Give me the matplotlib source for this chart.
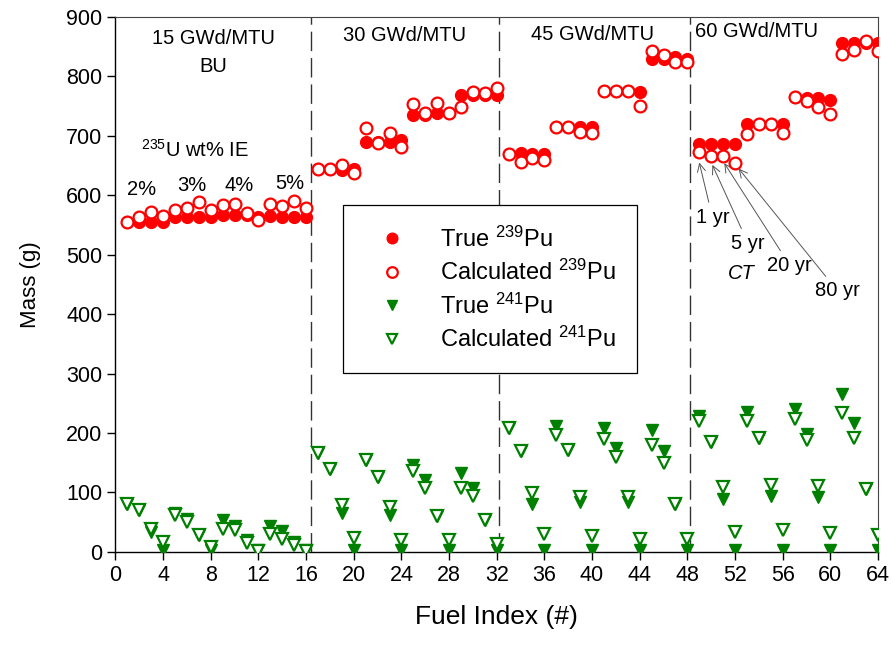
import numpy as np
import matplotlib
matplotlib.use('Agg')
import matplotlib.pyplot as plt

plt.rcParams['font.family'] = ['Liberation Sans', 'DejaVu Sans']
plt.rcParams['mathtext.fontset'] = 'custom'
plt.rcParams['mathtext.rm'] = 'Liberation Sans'
plt.rcParams['mathtext.it'] = 'Liberation Sans:italic'

# 4 burnups x 4 enrichments x 4 cooling times (1, 5, 20, 80 yr)
fuel_index = np.arange(1, 65)

true_pu239 = [555, 555, 555, 555, 564, 564, 564, 564, 567, 567, 567, 564, 565, 564, 564, 564,
              645, 645, 642, 645, 690, 690, 690, 693, 735, 735, 738, 738, 769, 769, 769, 769,
              669, 671, 669, 669, 715, 715, 715, 715, 776, 776, 775, 773, 829, 829, 833, 829,
              686, 686, 686, 686, 720, 720, 720, 720, 765, 763, 763, 761, 857, 857, 857, 856]
calc_pu239 = [555, 564, 572, 565, 576, 578, 589, 576, 583, 585, 570, 558, 586, 582, 591, 578,
              645, 645, 651, 637, 713, 688, 705, 682, 754, 739, 755, 739, 749, 774, 772, 780,
              669, 656, 662, 659, 715, 715, 706, 704, 776, 776, 776, 750, 843, 836, 825, 825,
              673, 666, 666, 655, 703, 720, 720, 705, 765, 759, 748, 737, 838, 845, 860, 843]
true_pu241 = [80, 70, 34, 3, 66, 55, 28, 3, 53, 43, 20, 3, 43, 35, 17, 3,
              167, 140, 65, 3, 154, 126, 62, 3, 146, 121, 60, 3, 132, 108, 53, 3,
              208, 169, 81, 3, 212, 171, 84, 3, 209, 174, 84, 3, 205, 170, 80, 3,
              228, 185, 88, 3, 236, 191, 94, 3, 240, 198, 93, 3, 265, 217, 105, 3]
calc_pu241 = [80, 70, 39, 17, 62, 50, 28, 8, 39, 37, 15, 1, 30, 22, 11, 1,
              167, 140, 79, 24, 154, 126, 75, 20, 136, 108, 60, 19, 108, 94, 53, 13,
              208, 169, 99, 30, 196, 171, 93, 26, 189, 160, 92, 22, 180, 149, 80, 21,
              220, 185, 109, 34, 220, 191, 112, 36, 223, 188, 111, 31, 233, 191, 105, 28]

burnup_labels = ['15 GWd/MTU', '30 GWd/MTU', '45 GWd/MTU', '60 GWd/MTU']
burnup_label_x = [8.2, 24.3, 40.0, 53.8]
burnup_label_y = [864, 868, 871, 875]
group_edges = [16.4, 32.2, 48.25]
enrich_labels = ['2%', '3%', '4%', '5%']
enrich_x = [2.2, 6.4, 10.4, 14.6]
enrich_y = [609, 617, 617, 620]
red = '#ff0000'
green = '#008000'

fig = plt.figure(figsize=(8.93, 6.53), dpi=100)
ax = fig.add_axes([0.1293, 0.155, 0.8539, 0.819])

ms = 8.5
ax.plot(fuel_index, true_pu239, 'o', color=red, ms=ms, mec=red, label='True $^{239}$Pu', zorder=3)
ax.plot(fuel_index, calc_pu239, 'o', color=red, ms=ms, mfc='white', mec=red, mew=1.6,
        label='Calculated $^{239}$Pu', zorder=4)
ax.plot(fuel_index, true_pu241, 'v', color=green, ms=ms, mec=green, label='True $^{241}$Pu', zorder=3)
ax.plot(fuel_index, calc_pu241, 'v', color=green, ms=ms, mfc='white', mec=green, mew=1.6,
        label='Calculated $^{241}$Pu', zorder=4)

for xe in group_edges:
    ax.axvline(xe, color='#333333', lw=1.0, ls=(0, (14, 5)), zorder=1)

ax.set_xlim(0, 64)
ax.set_ylim(0, 900)
ax.set_xticks(np.arange(0, 65, 4))
ax.set_yticks(np.arange(0, 901, 100))
ax.tick_params(direction='out', length=6, width=1, labelsize=15.5)
for side in ['left', 'bottom']:
    ax.spines[side].set_linewidth(1.0)
for side in ['top', 'right']:
    ax.spines[side].set_linewidth(0.8)
    ax.spines[side].set_color('#444444')

ax.set_xlabel('Fuel Index (#)', fontsize=19, labelpad=14)
ax.set_ylabel('Mass (g)', fontsize=16, labelpad=18)

for lab, x, y in zip(burnup_labels, burnup_label_x, burnup_label_y):
    ax.text(x, y, lab, fontsize=14.5, ha='center', va='center')
ax.text(8.2, 817, 'BU', fontsize=14.5, ha='center', va='center')

ax.text(6.7, 676, '$^{235}$U wt% IE', fontsize=14.5, ha='center', va='center')
for lab, x, y in zip(enrich_labels, enrich_x, enrich_y):
    ax.text(x, y, lab, fontsize=14.5, ha='center', va='center')

# cooling time callouts on the first 60 GWd/MTU block
arrow = dict(arrowstyle='->', color='#555555', lw=0.7, shrinkA=2, shrinkB=0)
ct_text = ['1 yr', '5 yr', '20 yr', '80 yr']
ct_text_xy = [(50.1, 563), (53.1, 519), (56.6, 482), (60.6, 439)]
ct_tip_xy = [(49.0, 655), (50.1, 651), (51.1, 654), (52.3, 645)]
for lab, txy, pxy in zip(ct_text, ct_text_xy, ct_tip_xy):
    ax.annotate(lab, xy=pxy, xytext=txy, fontsize=14.5, ha='center', va='center',
                arrowprops=arrow)
ax.text(52.5, 469, 'CT', fontsize=14.5, style='italic', ha='center', va='center')

leg = ax.legend(loc='upper left', bbox_to_anchor=(0.298, 0.648), borderaxespad=0,
                fontsize=17, markerscale=0.9, handletextpad=0.8, borderpad=0.9,
                labelspacing=0.35, fancybox=False, edgecolor='black', framealpha=1,
                handlelength=2.4)
leg.get_frame().set_linewidth(0.9)

fig.savefig('out.png', dpi=100)
